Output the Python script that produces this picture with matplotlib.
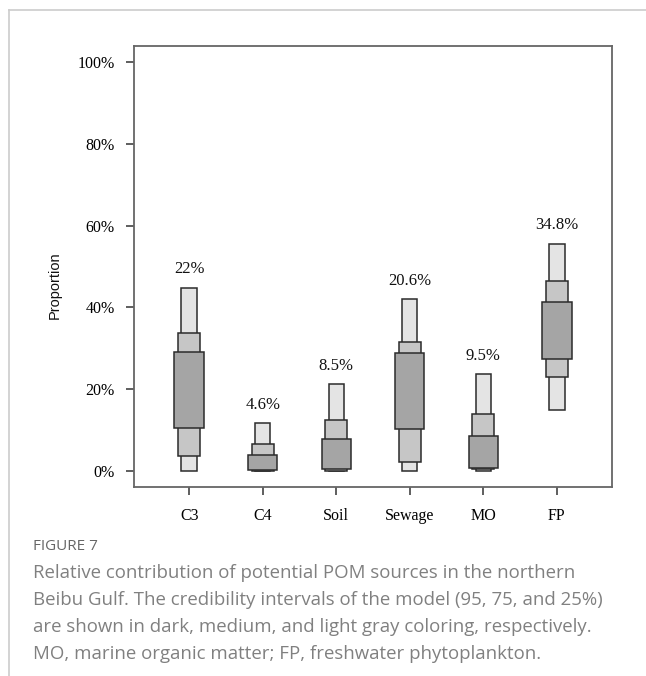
import matplotlib
matplotlib.use('Agg')
import matplotlib.pyplot as plt
import matplotlib.ticker as ticker
from matplotlib.lines import Line2D

# Sources and median contribution labels
sources = ['C3', 'C4', 'Soil', 'Sewage', 'MO', 'FP']
median_labels = ['22%', '4.6%', '8.5%', '20.6%', '9.5%', '34.8%']

# Outer (light gray) interval
outer_lo = [0.000, 0.000, 0.000, 0.000, 0.000, 0.149]
outer_hi = [0.448, 0.117, 0.212, 0.420, 0.237, 0.556]
# Middle (medium gray) interval
mid_lo = [0.037, 0.000, 0.000, 0.021, 0.005, 0.229]
mid_hi = [0.337, 0.066, 0.125, 0.314, 0.140, 0.465]
# Inner (dark gray) interval
inner_lo = [0.104, 0.002, 0.003, 0.103, 0.007, 0.273]
inner_hi = [0.291, 0.039, 0.078, 0.288, 0.086, 0.413]

yticks = [0, 0.2, 0.4, 0.6, 0.8, 1.0]

fig = plt.figure(figsize=(6.46, 6.76), dpi=100)
ax = fig.add_axes([134 / 646, 1 - 487 / 676, 478 / 646, 441 / 676])

x = list(range(1, len(sources) + 1))
layers = [
    (outer_lo, outer_hi, 0.21, '#e4e4e4'),
    (mid_lo, mid_hi, 0.30, '#c6c6c6'),
    (inner_lo, inner_hi, 0.40, '#a5a5a5'),
]
for z, (lo, hi, w, c) in enumerate(layers):
    heights = [h - l for l, h in zip(lo, hi)]
    ax.bar(x, heights, bottom=lo, width=w, color=c, edgecolor='#2b2b2b',
           linewidth=1.1, zorder=2 + z)

# median labels above the boxes
for xi, top, lab in zip(x, outer_hi, median_labels):
    ax.text(xi, top + 0.045, lab, ha='center', va='center',
            fontsize=12, family='Liberation Serif', color='#111111')

ax.set_xlim(0.25, 6.75)
ax.set_ylim(-0.04, 1.04)
ax.set_xticks(x)
ax.set_xticklabels(sources, family='Liberation Serif', fontsize=11.5)
ax.set_yticks(yticks)
ax.yaxis.set_major_formatter(ticker.FuncFormatter(lambda v, p: f'{v * 100:.0f}%'))
for lab in ax.get_yticklabels():
    lab.set_family('Liberation Serif')
    lab.set_fontsize(11.5)
ax.tick_params(axis='both', direction='out', length=6, width=1.1, color='#333333',
               pad=8)
ax.tick_params(axis='x', pad=9)
for s in ax.spines.values():
    s.set_color('#666666')
    s.set_linewidth(1.3)

fig.text(55 / 646, 1 - 285 / 676, 'Proportion', rotation=90, ha='center', va='center',
         family='Liberation Sans', fontsize=10.5, color='#111111')

# card frame
fig.add_artist(Line2D([9 / 646, 1], [1 - 10 / 676] * 2, color='#cccccc', lw=1.2))
fig.add_artist(Line2D([9 / 646] * 2, [0, 1 - 10 / 676], color='#cccccc', lw=1.2))

# caption
fig.text(33 / 646, 1 - 546 / 676, 'FIGURE 7', ha='left', va='center',
         family='Open Sans', fontsize=11, color='#666666')
caption = [
    'Relative contribution of potential POM sources in the northern',
    'Beibu Gulf. The credibility intervals of the model (95, 75, and 25%)',
    'are shown in dark, medium, and light gray coloring, respectively.',
    'MO, marine organic matter; FP, freshwater phytoplankton.',
]
for i, line in enumerate(caption):
    fig.text(33 / 646, 1 - (573 + 27 * i) / 676, line, ha='left', va='center',
             family='Open Sans', fontsize=13.4, color='#808080')

fig.savefig('out.png', dpi=100)
